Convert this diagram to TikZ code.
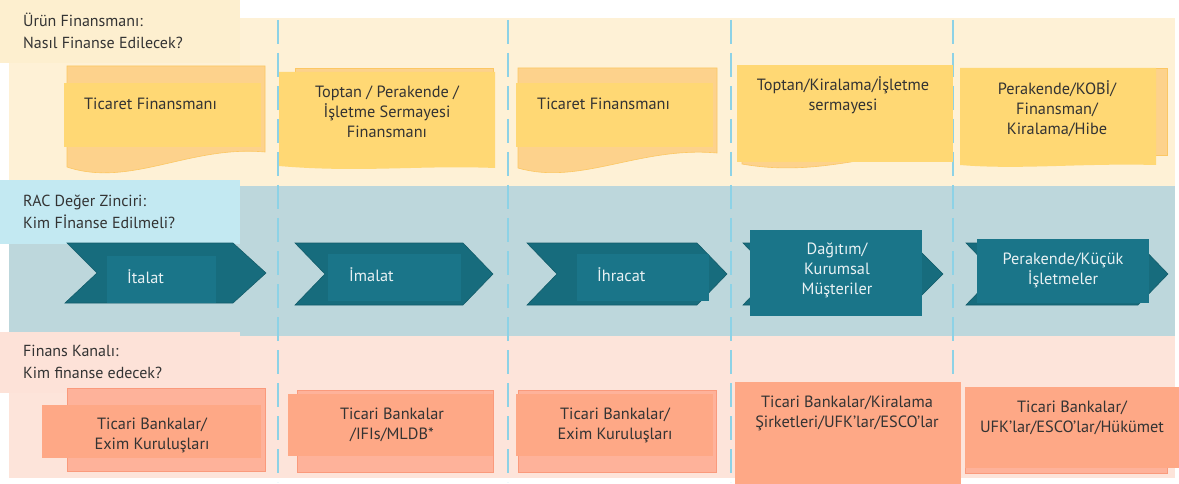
\documentclass[tikz,border=0pt]{standalone}
\usepackage{fontspec}
\setmainfont{PT Sans}

\definecolor{bandy}{HTML}{FEF1D6}
\definecolor{lbly}{HTML}{FDEFCF}
\definecolor{ygold}{HTML}{FFD874}
\definecolor{yorange}{HTML}{FDD28C}
\definecolor{yedge}{HTML}{FCC763}
\definecolor{bandb}{HTML}{BDD7DC}
\definecolor{lblb}{HTML}{C3E9F2}
\definecolor{tealdark}{HTML}{176C7D}
\definecolor{tealedge}{HTML}{135C6A}
\definecolor{tealmid}{HTML}{1A7589}
\definecolor{bandp}{HTML}{FDE4DA}
\definecolor{lblp}{HTML}{FDE2D8}
\definecolor{salfront}{HTML}{FEA886}
\definecolor{salback}{HTML}{FEB29A}
\definecolor{saledge}{HTML}{FA9A7C}
\definecolor{divblue}{HTML}{8DD2E6}
\definecolor{txtdark}{HTML}{333333}

\begin{document}
\begin{tikzpicture}[x=1pt, y=-1pt,
    every node/.style={font=\fontsize{16.3}{20}\selectfont, inner sep=0pt, text=txtdark},
    lbl/.style={align=left, anchor=west, font=\fontsize{16}{22}\selectfont},
    yback/.style={fill=yorange, draw=yedge, line width=.6pt},
    yfront/.style={fill=ygold},
    chevback/.style={fill=tealdark, draw=tealedge, line width=.6pt},
    chevfront/.style={fill=tealmid},
    ctext/.style={text=white!90!tealmid, align=center},
    sback/.style={fill=salback, draw=saledge, line width=.8pt},
    sfront/.style={fill=salfront},
    divider/.style={draw=divblue, line width=2.6pt, dash pattern=on 24pt off 9pt}]
  \useasboundingbox (0,0) rectangle (1179,484);
  % bands
  \fill[bandy] (9,18) rectangle (1175,186);
  \fill[bandb] (9,186) rectangle (1175,336);
  \fill[bandp] (9,336) rectangle (1175,478);
  % dividers
  \foreach \dx in {278,508,731,953}
    \draw[divider] (\dx,20) -- (\dx,482);
  % row labels
  \fill[lbly] (0,0) rectangle (240,63);
  \node[lbl] (urunlbl) at (23,31) {Ürün Finansmanı:\\Nasıl Finanse Edilecek?};
  \fill[lblb] (0,180) rectangle (240,244);
  \node[lbl] (raclbl) at (23,212) {RAC Değer Zinciri:\\Kim Fİnanse Edilmeli?};
  \fill[lblp] (0,332) rectangle (240,393);
  \node[lbl] (kanallbl) at (23,362) {Finans Kanalı:\\Kim finanse edecek?};

  % Urun finansmani
  \draw[yback] (67,66) -- (265,66) -- (265,152) .. controls (190,145) and (130,188) .. (67,167) -- cycle;
  \fill[yfront] (64,83) rectangle (261,147);
  \node[anchor=west] (urun1) at (84,104) {Ticaret Finansmanı};
  \draw[yback] (295,68) rectangle (493,160);
  \fill[yfront] (279,72) -- (495,72) -- (495,168) .. controls (420,165) and (360,173) .. (279,166) -- cycle;
  \node[align=center] (urun2) at (387,112) {Toptan / Perakende /\\İşletme Sermayesi\\Finansmanı};
  \draw[yback] (518,68) -- (717,68) -- (717,153) .. controls (640,146) and (580,186) .. (518,168) -- cycle;
  \fill[yfront] (516,83) rectangle (713,147);
  \node[anchor=west] (urun3) at (537,104) {Ticaret Finansmanı};
  \draw[yback] (742,70) -- (950,70) -- (950,150) .. controls (880,150) and (820,178) .. (742,164) -- cycle;
  \fill[yfront] (737,65) rectangle (953,162);
  \node[align=center] (urun4) at (843,95) {Toptan/Kiralama/İşletme\\sermayesi};
  \draw[yback] (965,68) rectangle (1167,155);
  \fill[yfront] (960,68) -- (1156,68) -- (1156,165) .. controls (1080,163) and (1020,170) .. (960,165) -- cycle;
  \node[align=center] (urun5) at (1057,109) {Perakende/KOBİ/\\Finansman/\\Kiralama/Hibe};

  % RAC deger zinciri
  \draw[chevback] (67,243) -- (233,243) -- (266,273) -- (233,303) -- (65,303) -- (97,273) -- cycle;
  \fill[chevfront] (107,256) rectangle (216,303);
  \node[ctext, anchor=west] (rac1) at (127,277) {İtalat};
  \draw[chevback] (295,243) -- (463,243) -- (493,274) -- (463,305) -- (295,305) -- (325,274) -- cycle;
  \fill[chevfront] (328,254) rectangle (461,301);
  \node[ctext, anchor=west] (rac2) at (349,275) {İmalat};
  \draw[chevback] (527,243) -- (697,243) -- (727,274) -- (697,305) -- (527,305) -- (557,274) -- cycle;
  \fill[chevfront] (577,254) rectangle (709,301);
  \node[ctext, anchor=west] (rac3) at (597,275) {İhracat};
  \draw[chevback] (743,243) -- (912,243) -- (943,274) -- (912,305) -- (743,305) -- (773,274) -- cycle;
  \fill[chevfront] (750,230) rectangle (922,316);
  \node[ctext] (rac4) at (837,270) {Dağıtım/\\Kurumsal\\Müşteriler};
  \draw[chevback] (966,243) -- (1138,243) -- (1168,274) -- (1138,305) -- (966,305) -- (996,274) -- cycle;
  \fill[chevfront] (977,239) rectangle (1149,303);
  \node[ctext] (rac5) at (1063,270) {Perakende/Küçük\\İşletmeler};

  % Finans kanali
  \draw[sback] (67,388) rectangle (265,471);
  \fill[sfront] (42,405) rectangle (261,458);
  \node[align=center] (kanal1) at (152,435) {Ticari Bankalar/\\Exim Kuruluşları};
  \draw[sback] (297,390) rectangle (493,472);
  \fill[sfront] (288,394) rectangle (493,456);
  \node[align=center] (kanal2) at (392,425) {Ticari Bankalar\\/IFIs/MLDB*};
  \draw[sback] (518,390) rectangle (716,472);
  \fill[sfront] (516,394) rectangle (713,456);
  \node[align=center] (kanal3) at (615,425) {Ticari Bankalar/\\Exim Kuruluşları};
  \fill[sfront] (735,382) rectangle (961,484);
  \node[align=center] (kanal4) at (847,413) {Ticari Bankalar/Kiralama\\Şirketleri/UFK’lar/ESCO’lar};
  \draw[sback] (965,390) rectangle (1167,473);
  \fill[sfront] (965,387) rectangle (1179,468);
  \node[align=center] (kanal5) at (1072,418) {Ticari Bankalar/\\UFK’lar/ESCO’lar/Hükümet};
\end{tikzpicture}
\end{document}
